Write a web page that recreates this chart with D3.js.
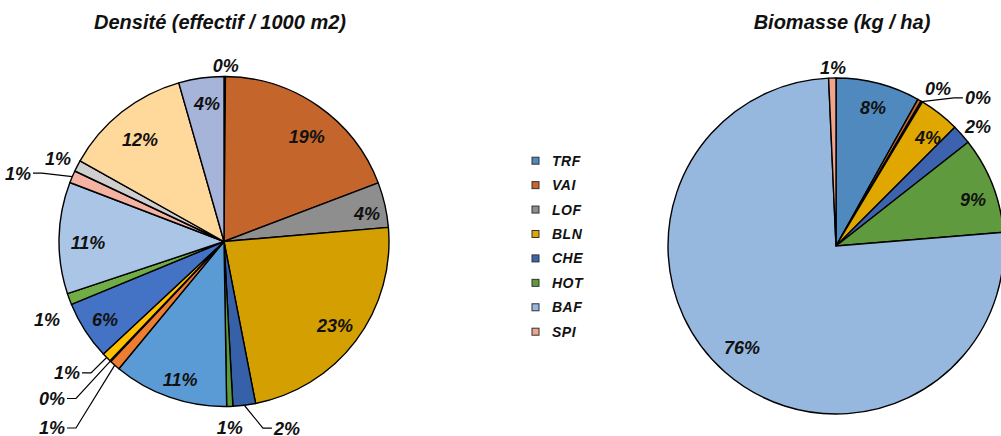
<!DOCTYPE html>
<html>
<head>
<meta charset="utf-8">
<script src="https://cdn.jsdelivr.net/npm/d3@7"></script>
<style>
    body { margin: 0; background: white; }
    text { font-family: "Liberation Sans", Arial, sans-serif; font-weight: bold; font-style: italic; }
</style>
</head>
<body>
<script>
// legend / series names (right pie order)
const categories = ["TRF", "VAI", "LOF", "BLN", "CHE", "HOT", "BAF", "SPI"];

// Densité (effectif / 1000 m2) - 17 slices, clockwise from 12 o'clock
const densValues = [0.14, 19.0, 4.4, 23.2, 2.2, 0.6, 11.2, 1.05, 0.1, 0.9, 5.7, 1.1, 10.9, 1.2, 1.1, 12.4, 4.4];

// Biomasse (kg / ha)
const bioValues = [8.1, 0.35, 0.15, 3.9, 1.9, 9.3, 75.6, 0.7];

const titles = ["Densité (effectif / 1000 m2)", "Biomasse (kg / ha)"];

function renderPies() {
    const wSvg = 1001;
    const hSvg = 436;

    const bioColors = ["#4F89BD", "#C8662C", "#8E8E8E", "#E0A700", "#3E63AE", "#5F9A3E", "#96B8DF", "#EEA48D"];
    const densColors = ["#4F89BD", "#C4662B", "#8E8E8E", "#D49F00", "#3660A8", "#5E9B3D",
        "#5B9BD5", "#ED7D31", "#A5A5A5", "#FFC000", "#4472C4", "#70AD47",
        "#ABC5E6", "#F4B3A2", "#CFCFCF", "#FFD89B", "#A6B4DA"];

    // label layout: [angle (deg, clockwise from top), distance from centre, kind]
    // kind: "c" centred, "L" leader to the left, "R" leader to the right
    const densLabelPos = [
        [0.6, 176.5, "c"], [38.2, 134, "c"], [79.1, 145.6, "c"], [127, 139, "c"],
        [165.6, 192.6, "R"], [178.2, 186.1, "c"], [197.7, 144.4, "c"], [220.1, 243.8, "L"],
        [225, 222, "L"], [227.2, 193.5, "L"], [236.6, 142.6, "c"], [246.3, 193.2, "c"],
        [269.4, 136, "c"], [289.7, 202.9, "L"], [296.7, 185.8, "c"], [320.4, 131.8, "c"],
        [353, 139.5, "c"]
    ];
    const bioLabelPos = [
        [14.9, 143.8, "c"], [32.9, 188, "c"], [40.6, 195, "R"], [40.2, 142.6, "c"],
        [49.8, 185.9, "c"], [71.4, 144.5, "c"], [222.7, 138.7, "c"], [359, 179, "c"]
    ];

    const pies = [
        { values: densValues, colors: densColors, labels: densLabelPos, cx: 224, cy: 241.5, r: 165, title: titles[0], tx: 220 },
        { values: bioValues, colors: bioColors, labels: bioLabelPos, cx: 836, cy: 246, r: 168, title: titles[1], tx: 842 }
    ];

    let svg = d3.select("body")
        .append("svg")
        .attr("width", wSvg)
        .attr("height", hSvg)
        .style("background-color", "white");

    const pieMaker = d3.pie().sort(null).value(d => d);
    const rad = Math.PI / 180;
    const fmt = d3.format(".0%");

    pies.forEach(p => {
        const total = d3.sum(p.values);
        const arcs = pieMaker(p.values);
        const arcMaker = d3.arc().innerRadius(0).outerRadius(p.r);

        let g = svg.append("g")
            .attr("transform", `translate(${p.cx}, ${p.cy})`);

        g.selectAll("path")
            .data(arcs)
            .enter()
            .append("path")
            .attr("d", arcMaker)
            .attr("fill", (d, i) => p.colors[i])
            .attr("stroke", "black")
            .attr("stroke-width", 1.4)
            .attr("stroke-linejoin", "round");

        // leader lines
        arcs.forEach((d, i) => {
            const pos = p.labels[i];
            if (pos[2] === "c") return;
            const mid = (d.startAngle + d.endAngle) / 2;
            const edge = d3.pointRadial(mid, p.r);
            const end = d3.pointRadial(pos[0] * rad, pos[1]);
            const elbow = [end[0] + (pos[2] === "L" ? 9 : -9), end[1]];
            g.append("path")
                .attr("d", d3.line()([edge, elbow, end]))
                .attr("fill", "none")
                .attr("stroke", "black")
                .attr("stroke-width", 1.2);
        });

        g.selectAll("text.lbl")
            .data(arcs)
            .enter()
            .append("text")
            .attr("class", "lbl")
            .attr("x", (d, i) => {
                const pos = p.labels[i];
                const pt = d3.pointRadial(pos[0] * rad, pos[1]);
                if (pos[2] === "L") return pt[0] - 2;
                if (pos[2] === "R") return pt[0] + 2;
                return pt[0];
            })
            .attr("y", (d, i) => d3.pointRadial(p.labels[i][0] * rad, p.labels[i][1])[1])
            .attr("dy", "0.36em")
            .attr("text-anchor", (d, i) => p.labels[i][2] === "L" ? "end" : (p.labels[i][2] === "R" ? "start" : "middle"))
            .attr("font-size", 18)
            .attr("fill", "#111")
            .text(d => fmt(d.value / total));

        svg.append("text")
            .attr("x", p.tx)
            .attr("y", 29)
            .attr("text-anchor", "middle")
            .attr("font-size", 20)
            .attr("fill", "#111")
            .text(p.title);
    });

    // legend
    let legendScale = d3.scalePoint(categories, [160.7, 331.7]);
    let legend = svg.append("g");

    legend.selectAll("rect")
        .data(categories)
        .enter()
        .append("rect")
        .attr("x", 532)
        .attr("y", d => legendScale(d) - 3.5)
        .attr("width", 7)
        .attr("height", 7)
        .attr("fill", (d, i) => bioColors[i])
        .attr("stroke", "#333")
        .attr("stroke-width", 1);

    legend.selectAll("text")
        .data(categories)
        .enter()
        .append("text")
        .attr("x", 552)
        .attr("y", d => legendScale(d))
        .attr("dy", "0.36em")
        .attr("font-size", 14)
        .attr("letter-spacing", 0.5)
        .attr("fill", "#111")
        .text(d => d);
}

renderPies();
</script>
</body>
</html>
